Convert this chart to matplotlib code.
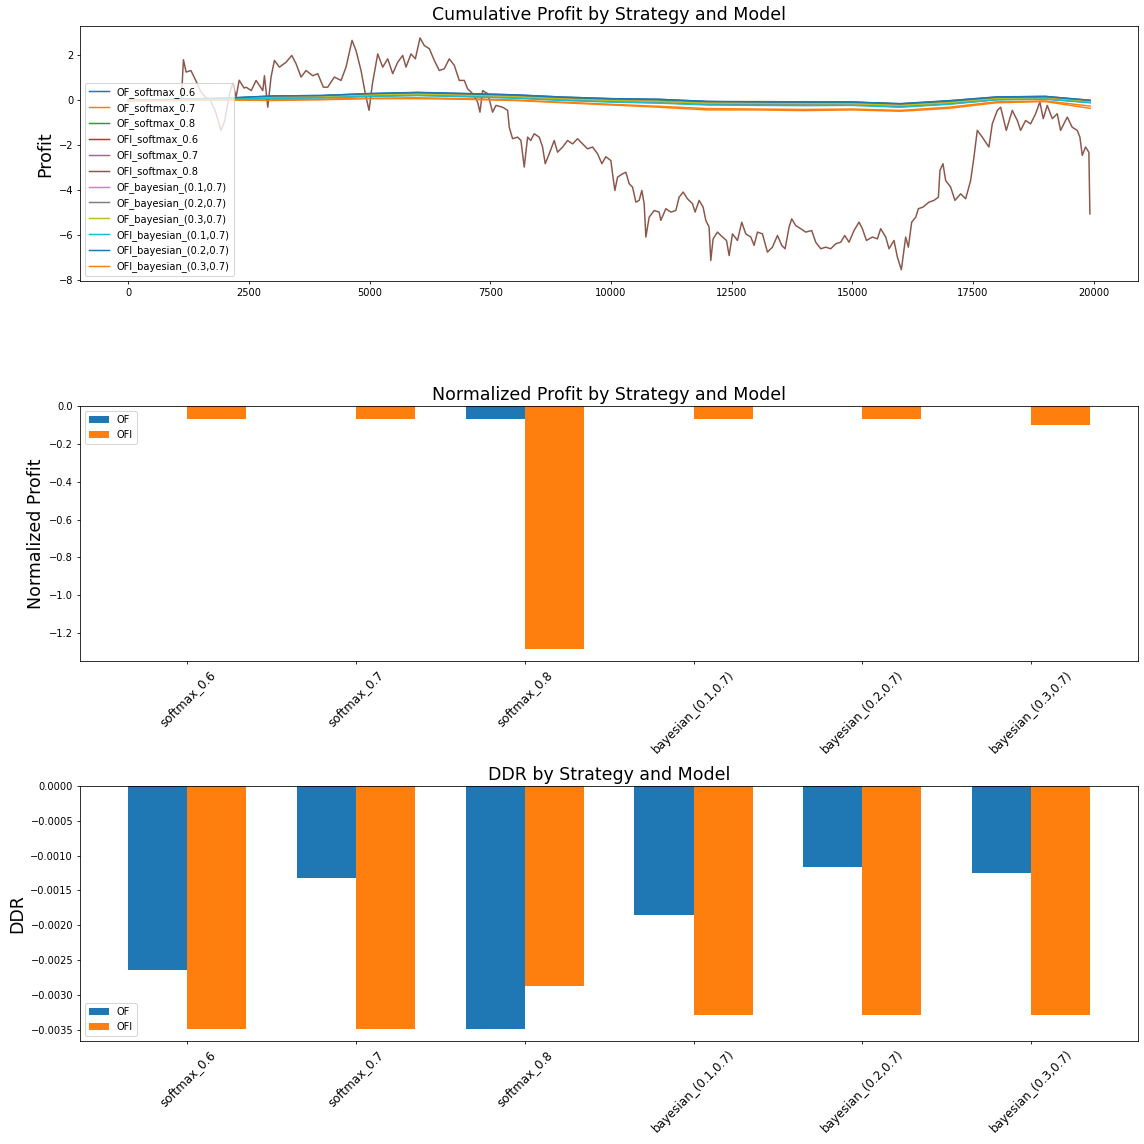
import numpy as np
import matplotlib
matplotlib.use("Agg")
import matplotlib.pyplot as plt

# ---------------- data ----------------
# coarse x grid for the strategies that stay close to zero
cum_x = [0, 1000, 2000, 3000, 4000, 5000, 6000, 7000, 8000, 9000, 10000,
         11000, 12000, 13000, 14000, 15000, 16000, 17000, 18000, 19000, 19930]

of_softmax_06 = [0, 0.05, 0.10, 0.20, 0.22, 0.30, 0.35, 0.30, 0.25, 0.15, 0.08,
                 0.05, -0.05, -0.07, -0.08, -0.08, -0.15, -0.02, 0.15, 0.18, 0.00]
of_softmax_07 = [0, 0.01, 0.03, 0.03, 0.06, 0.10, 0.12, 0.08, 0.02, -0.08, -0.17,
                 -0.26, -0.36, -0.38, -0.40, -0.38, -0.44, -0.30, -0.06, -0.02, -0.25]
of_softmax_08 = [0, 0.04, 0.09, 0.18, 0.20, 0.28, 0.33, 0.28, 0.22, 0.12, 0.05,
                 0.02, -0.06, -0.05, -0.06, -0.07, -0.16, -0.04, 0.12, 0.15, -0.02]
ofi_softmax_06 = [0, 0.03, 0.07, 0.14, 0.16, 0.24, 0.28, 0.23, 0.17, 0.07, 0.00,
                  -0.05, -0.12, -0.13, -0.14, -0.15, -0.22, -0.10, 0.08, 0.10, -0.05]
ofi_softmax_07 = [0, 0.02, 0.06, 0.12, 0.14, 0.20, 0.25, 0.20, 0.14, 0.04, -0.03,
                  -0.08, -0.16, -0.17, -0.18, -0.18, -0.26, -0.13, 0.05, 0.08, -0.08]
of_bayes_01 = [0, 0.02, 0.06, 0.12, 0.14, 0.20, 0.25, 0.20, 0.14, 0.04, -0.03,
               -0.08, -0.16, -0.17, -0.18, -0.18, -0.26, -0.13, 0.05, 0.08, -0.08]
of_bayes_02 = [0, 0.02, 0.05, 0.11, 0.13, 0.19, 0.23, 0.18, 0.12, 0.02, -0.05,
               -0.10, -0.18, -0.19, -0.20, -0.20, -0.28, -0.15, 0.04, 0.07, -0.09]
of_bayes_03 = [0, 0.03, 0.07, 0.14, 0.16, 0.24, 0.28, 0.23, 0.17, 0.07, 0.00,
               -0.05, -0.12, -0.13, -0.14, -0.15, -0.22, -0.10, 0.08, 0.10, -0.05]
ofi_bayes_01 = [0, 0.02, 0.05, 0.10, 0.12, 0.18, 0.22, 0.17, 0.10, 0.00, -0.07,
                -0.12, -0.20, -0.22, -0.23, -0.22, -0.30, -0.17, 0.03, 0.06, -0.10]
ofi_bayes_02 = [0, 0.05, 0.10, 0.20, 0.22, 0.31, 0.36, 0.31, 0.25, 0.15, 0.08,
                0.05, -0.04, -0.06, -0.07, -0.07, -0.14, -0.01, 0.16, 0.18, 0.01]
ofi_bayes_03 = [0, 0.00, 0.02, 0.00, 0.03, 0.08, 0.08, 0.05, 0.00, -0.10, -0.20,
                -0.30, -0.42, -0.42, -0.45, -0.42, -0.48, -0.35, -0.10, -0.05, -0.35]

# OFI_softmax_0.8 swings widely, traced in more detail
ofi_s08_x = [0, 1100, 1145, 1200, 1300, 1400, 1500, 1600, 1700, 1800, 1925, 2000,
             2100, 2167, 2236, 2300, 2400, 2443, 2550, 2650, 2789, 2823, 2892, 2960,
             3030, 3133, 3271, 3389, 3478, 3582, 3685, 3824, 3927, 4044, 4134, 4272,
             4410, 4513, 4638, 4720, 4824, 4913, 4990, 5060, 5170, 5273, 5377, 5480,
             5584, 5687, 5756, 5859, 5949, 6046, 6135, 6239, 6342, 6445, 6549, 6652,
             6756, 6859, 6963, 7032, 7136, 7239, 7288, 7343, 7450, 7550, 7619, 7757,
             7861, 7895, 7964, 8068, 8137, 8205, 8275, 8340, 8412, 8516, 8585, 8640,
             8723, 8826, 8896, 9000, 9103, 9207, 9310, 9414, 9517, 9621, 9724, 9814,
             9896, 10000, 10035, 10083, 10138, 10242, 10311, 10379, 10449, 10518,
             10586, 10642, 10690, 10725, 10793, 10897, 11000, 11035, 11139, 11242,
             11346, 11414, 11497, 11587, 11691, 11745, 11828, 11911, 11967, 12035,
             12070, 12118, 12208, 12312, 12395, 12450, 12519, 12623, 12712, 12795,
             12899, 12967, 13037, 13140, 13244, 13347, 13451, 13540, 13609, 13692,
             13747, 13830, 13934, 14037, 14161, 14244, 14348, 14451, 14555, 14658,
             14762, 14845, 14934, 15037, 15141, 15211, 15294, 15418, 15521, 15590,
             15694, 15762, 15866, 15935, 16018, 16108, 16163, 16232, 16315, 16371,
             16466, 16590, 16694, 16785, 16818, 16880, 16936, 17039, 17128, 17246,
             17350, 17453, 17522, 17591, 17695, 17832, 17902, 18006, 18075, 18192,
             18316, 18420, 18489, 18592, 18696, 18799, 18888, 18958, 19041, 19145,
             19248, 19317, 19455, 19558, 19662, 19717, 19766, 19834, 19903, 19924]
ofi_s08_y = [0.0, 0.0, 1.81, 1.26, 1.33, 0.89, 0.4, 0.15, 0.0, -0.44, -1.33, -0.9,
             0.3, 0.75, 0.15, 0.9, 0.55, 0.59, 0.44, 0.89, 0.44, 1.1, -0.3, 1.04,
             1.78, 1.48, 1.7, 2.0, 1.63, 1.04, 1.33, 1.1, 1.19, 0.59, 0.59, 1.04,
             0.89, 1.48, 2.67, 2.22, 1.33, 0.3, -0.44, 0.74, 2.07, 1.48, 1.85, 1.19,
             1.7, 2.0, 1.48, 2.07, 1.85, 2.78, 2.44, 2.3, 1.78, 1.33, 1.41, 1.85,
             1.56, 0.89, 0.89, 0.52, 0.3, -0.07, -0.52, 0.44, 0.3, -0.52, -0.22, -0.3,
             -0.44, -1.19, -1.7, -1.63, -1.78, -2.96, -1.63, -1.78, -1.48, -1.63, -2.07, -2.81,
             -2.37, -1.78, -2.3, -2.07, -1.78, -1.93, -1.7, -1.93, -2.15, -2.07, -2.37, -2.81,
             -2.5, -2.67, -3.26, -4.0, -3.41, -3.26, -3.19, -3.7, -3.85, -4.52,
             -4.44, -4.0, -4.59, -6.07, -5.19, -4.89, -4.96, -5.33, -4.81, -4.96,
             -4.89, -4.3, -4.07, -4.37, -4.59, -4.96, -4.44, -4.74, -5.33, -5.63,
             -7.11, -6.15, -5.85, -6.07, -6.22, -6.89, -5.93, -6.22, -5.41, -5.93,
             -6.07, -6.44, -5.85, -5.93, -6.74, -6.52, -6.0, -6.44, -6.59, -5.63,
             -5.26, -5.56, -5.7, -5.85, -5.78, -6.3, -6.59, -6.52, -6.59, -6.37,
             -6.3, -6.0, -6.3, -5.78, -5.41, -5.7, -6.22, -6.07, -6.15, -5.7,
             -6.07, -6.59, -6.22, -6.96, -7.52, -6.07, -6.52, -5.41, -5.19, -4.81,
             -4.74, -4.52, -4.44, -4.3, -3.11, -2.81, -3.56, -3.85, -4.44, -4.15,
             -4.37, -3.56, -2.52, -1.33, -1.63, -2.07, -1.04, -0.44, -0.3, -1.33,
             -0.44, -0.89, -1.33, -0.89, -1.04, -0.59, -0.07, -0.81, -0.22, -0.81,
             -0.59, -1.33, -0.74, -1.19, -1.33, -1.63, -2.44, -2.07, -2.3, -5.04]

series_names = ["OF_softmax_0.6", "OF_softmax_0.7", "OF_softmax_0.8",
                "OFI_softmax_0.6", "OFI_softmax_0.7", "OFI_softmax_0.8",
                "OF_bayesian_(0.1,0.7)", "OF_bayesian_(0.2,0.7)", "OF_bayesian_(0.3,0.7)",
                "OFI_bayesian_(0.1,0.7)", "OFI_bayesian_(0.2,0.7)", "OFI_bayesian_(0.3,0.7)"]
series_vals = [of_softmax_06, of_softmax_07, of_softmax_08,
               ofi_softmax_06, ofi_softmax_07, None,
               of_bayes_01, of_bayes_02, of_bayes_03,
               ofi_bayes_01, ofi_bayes_02, ofi_bayes_03]

models = ["softmax_0.6", "softmax_0.7", "softmax_0.8",
          "bayesian_(0.1,0.7)", "bayesian_(0.2,0.7)", "bayesian_(0.3,0.7)"]
norm_of = [0.0, 0.0, -0.067, 0.0, 0.0, 0.0]
norm_ofi = [-0.067, -0.067, -1.285, -0.067, -0.067, -0.101]
ddr_of = [-0.00264, -0.00132, -0.00349, -0.00186, -0.00116, -0.00125]
ddr_ofi = [-0.00349, -0.00349, -0.00288, -0.00329, -0.00329, -0.00329]

# ---------------- figure ----------------
fig, axes = plt.subplots(3, 1, figsize=(16, 16), dpi=71.5)
fig.subplots_adjust(left=0.07, right=0.995, top=0.977, bottom=0.09, hspace=0.49)

# ------------- Cumulative profit -------------
ax = axes[0]
colors = plt.rcParams['axes.prop_cycle'].by_key()['color']
for i, (name, vals) in enumerate(zip(series_names, series_vals)):
    c = colors[i % len(colors)]
    if vals is None:
        ax.plot(ofi_s08_x, ofi_s08_y, color=c, label=name)
    else:
        ax.plot(cum_x, vals, color=c, label=name)
ax.set_title("Cumulative Profit by Strategy and Model", fontsize=17.5)
ax.set_ylabel("Profit", fontsize=17.5)
ax.legend(loc="lower left")

# ------------- Normalized profit -------------
x = np.arange(len(models))
w = 0.35
ax = axes[1]
ax.bar(x - w / 2, norm_of, w, label="OF")
ax.bar(x + w / 2, norm_ofi, w, label="OFI")
ax.set_xticks(x)
ax.set_xticklabels(models, rotation=45, fontsize=12)
ax.set_title("Normalized Profit by Strategy and Model", fontsize=17.5)
ax.set_ylabel("Normalized Profit", fontsize=17.5)
ax.legend(loc="upper left")

# ------------- DDR -------------
ax = axes[2]
ax.bar(x - w / 2, ddr_of, w, label="OF")
ax.bar(x + w / 2, ddr_ofi, w, label="OFI")
ax.set_xticks(x)
ax.set_xticklabels(models, rotation=45, fontsize=12)
ax.set_title("DDR by Strategy and Model", fontsize=17.5)
ax.set_ylabel("DDR", fontsize=17.5)
ax.legend(loc="lower left")

plt.savefig("out.png", dpi=71.5)
